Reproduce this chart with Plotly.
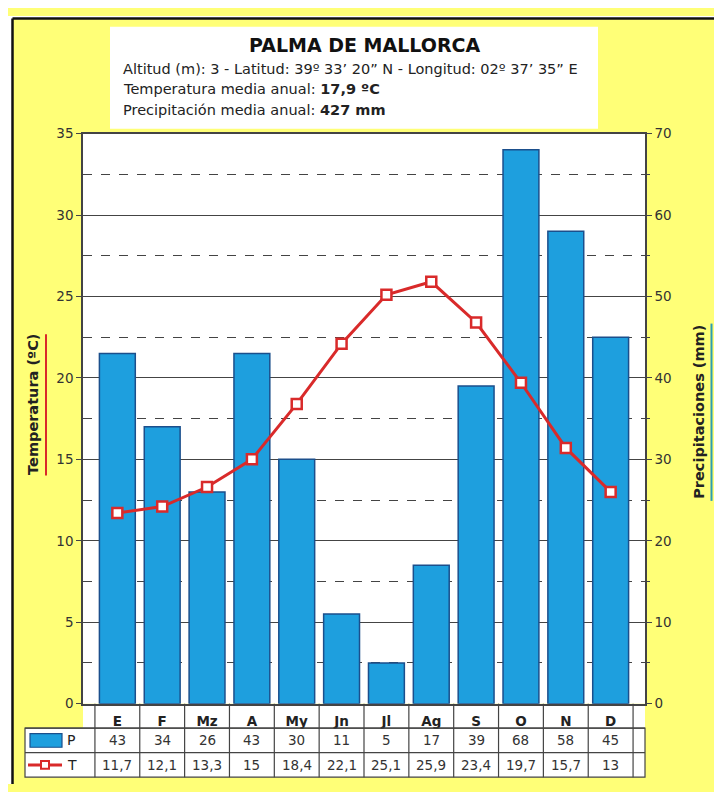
import plotly.graph_objects as go

months = ["E", "F", "Mz", "A", "My", "Jn", "Jl", "Ag", "S", "O", "N", "D"]
precip = [43, 34, 26, 43, 30, 11, 5, 17, 39, 68, 58, 45]
temp = [11.7, 12.1, 13.3, 15, 18.4, 22.1, 25.1, 25.9, 23.4, 19.7, 15.7, 13]
temp_labels = ["11,7", "12,1", "13,3", "15", "18,4", "22,1", "25,1", "25,9", "23,4", "19,7", "15,7", "13"]

title = "PALMA DE MALLORCA"
subtitle = "Altitud (m): 3 - Latitud: 39º 33’ 20” N - Longitud: 02º 37’ 35” E"
t_media = "17,9 ºC"
p_media = "427 mm"

OFF = 8  # page body margin
W, H = 722 - OFF, 792 - OFF
FONT = "DejaVu Sans"
YELLOW = "#FFFF77"
BLUE = "#1E9FDE"
BLUE_EDGE = "#1B4F8C"
RED = "#D92A2A"
GRID = "#444444"

def px(x):
    return (x - OFF) / W

def py(y):
    return 1 - (y - OFF) / H

PL, PR, PT, PB = 83, 645, 128, 710
R1, R2, TB = 735, 760, 785  # table row boundaries

fig = go.Figure()
fig.add_trace(go.Bar(x=months, y=precip, yaxis="y", name="P",
                     marker=dict(color=BLUE, line=dict(color=BLUE_EDGE, width=1.5)),
                     width=0.8))
fig.add_trace(go.Scatter(x=months, y=temp, yaxis="y2", name="T", mode="lines+markers",
                         line=dict(color=RED, width=3),
                         marker=dict(symbol="square", size=10, color="white",
                                     line=dict(color=RED, width=2.5))))

shapes = []
annotations = []

# white margins outside the yellow panel and its dark border
shapes.append(dict(type="rect", xref="paper", yref="paper", x0=0, x1=px(12.5),
                   y0=0, y1=1, fillcolor="white", line=dict(width=0), layer="below"))
shapes.append(dict(type="rect", xref="paper", yref="paper", x0=0, x1=1,
                   y0=py(10.5), y1=1, fillcolor="white", line=dict(width=0), layer="below"))
shapes.append(dict(type="line", xref="paper", yref="paper", x0=px(12.5), x1=px(12.5),
                   y0=0, y1=py(10.5), line=dict(color="#111111", width=2.5)))
shapes.append(dict(type="line", xref="paper", yref="paper", x0=px(12.5), x1=1,
                   y0=py(10.5), y1=py(10.5), line=dict(color="#111111", width=2.5)))
# title box
shapes.append(dict(type="rect", xref="paper", yref="paper", x0=px(110), x1=px(598),
                   y0=py(123), y1=py(19), fillcolor="white", line=dict(width=0), layer="below"))
# table background
shapes.append(dict(type="rect", xref="paper", yref="paper", x0=px(PL), x1=px(PR),
                   y0=py(R1), y1=py(PB), fillcolor="white", line=dict(width=0), layer="below"))
shapes.append(dict(type="rect", xref="paper", yref="paper", x0=px(25), x1=px(PR),
                   y0=py(TB), y1=py(R1), fillcolor="white", line=dict(color=GRID, width=1.2),
                   layer="below"))
for yy in [R1, R2]:
    shapes.append(dict(type="line", xref="paper", yref="paper", x0=px(25), x1=px(PR),
                       y0=py(yy), y1=py(yy), line=dict(color=GRID, width=1.2)))
for i in range(len(months) + 1):
    shapes.append(dict(type="line", xref="x", yref="paper", x0=i - 0.5, x1=i - 0.5,
                       y0=py(TB), y1=py(PB), line=dict(color=GRID, width=1.2)))

yP = (R1 + R2) / 2
yT = (R2 + TB) / 2
# legend cells
shapes.append(dict(type="rect", xref="paper", yref="paper", x0=px(30), x1=px(62),
                   y0=py(yP + 7), y1=py(yP - 7), fillcolor=BLUE, line=dict(color=BLUE_EDGE, width=1.2)))
shapes.append(dict(type="line", xref="paper", yref="paper", x0=px(28), x1=px(62),
                   y0=py(yT), y1=py(yT), line=dict(color=RED, width=3)))
shapes.append(dict(type="rect", xref="paper", yref="paper", x0=px(41), x1=px(49),
                   y0=py(yT + 4), y1=py(yT - 4), fillcolor="white", line=dict(color=RED, width=2)))
annotations.append(dict(text="P", xref="paper", yref="paper", x=px(65), y=py(yP),
                        xanchor="left", yanchor="middle", showarrow=False,
                        font=dict(size=14, color="#222", family=FONT)))
annotations.append(dict(text="T", xref="paper", yref="paper", x=px(65), y=py(yT),
                        xanchor="left", yanchor="middle", showarrow=False,
                        font=dict(size=14, color="#222", family=FONT)))

for m, p, tl in zip(months, precip, temp_labels):
    annotations.append(dict(text=str(p), xref="x", yref="paper", x=m, y=py(yP),
                            yanchor="middle", showarrow=False,
                            font=dict(size=13.5, color="#333", family=FONT)))
    annotations.append(dict(text=tl, xref="x", yref="paper", x=m, y=py(yT),
                            yanchor="middle", showarrow=False,
                            font=dict(size=13.5, color="#333", family=FONT)))

annotations.append(dict(text="<b>" + title + "</b>", xref="paper", yref="paper", x=px(364), y=py(38),
                        xanchor="center", yanchor="middle", showarrow=False,
                        font=dict(size=19, color="#111", family=FONT)))
annotations.append(dict(text=subtitle, xref="paper", yref="paper", x=px(121), y=py(62),
                        xanchor="left", yanchor="middle", showarrow=False,
                        font=dict(size=14.5, color="#222", family=FONT)))
annotations.append(dict(text="Temperatura media anual: <b>" + t_media + "</b>", xref="paper", yref="paper",
                        x=px(121), y=py(83), xanchor="left", yanchor="middle", showarrow=False,
                        font=dict(size=14.5, color="#222", family=FONT)))
annotations.append(dict(text="Precipitación media anual: <b>" + p_media + "</b>", xref="paper", yref="paper",
                        x=px(121), y=py(104), xanchor="left", yanchor="middle", showarrow=False,
                        font=dict(size=14.5, color="#222", family=FONT)))

annotations.append(dict(text="<b>Temperatura (ºC)</b>", xref="paper", yref="paper", x=px(33), y=py(405),
                        textangle=-90, xanchor="center", yanchor="middle", showarrow=False,
                        font=dict(size=14.5, color="#222", family=FONT)))
shapes.append(dict(type="line", xref="paper", yref="paper", x0=px(46), x1=px(46),
                   y0=py(477), y1=py(333), line=dict(color=RED, width=2)))
annotations.append(dict(text="<b>Precipitaciones (mm)</b>", xref="paper", yref="paper", x=px(699), y=py(412),
                        textangle=-90, xanchor="center", yanchor="middle", showarrow=False,
                        font=dict(size=14.5, color="#222", family=FONT)))
shapes.append(dict(type="line", xref="paper", yref="paper", x0=px(711.5), x1=px(711.5),
                   y0=py(503), y1=py(322), line=dict(color="#2A9DB5", width=2)))

fig.update_layout(
    width=W, height=H,
    margin=dict(l=0, r=0, t=0, b=0),
    paper_bgcolor=YELLOW,
    plot_bgcolor="white",
    showlegend=False,
    bargap=0.2,
    font=dict(family=FONT, size=13, color="#333"),
    shapes=shapes,
    annotations=annotations,
    xaxis=dict(domain=[px(PL), px(PR)], type="category",
               tickmode="array", tickvals=months, ticktext=["<b>" + m + "</b>" for m in months],
               tickfont=dict(size=13.5, color="#222", family=FONT),
               showline=True, linecolor=GRID, linewidth=1.5, mirror=True,
               ticks="", showgrid=False, ticklabelstandoff=4),
    yaxis=dict(domain=[py(PB), py(PT)], side="right", range=[0, 70],
               tickvals=[0, 10, 20, 30, 40, 50, 60, 70],
               showgrid=True, gridcolor=GRID, gridwidth=1, zeroline=False,
               minor=dict(tickvals=[5, 15, 25, 35, 45, 55, 65], showgrid=True,
                          gridcolor=GRID, griddash="dash", gridwidth=1,
                          ticks="outside", ticklen=3, tickcolor=GRID),
               ticks="outside", ticklen=5, tickcolor=GRID,
               showline=True, linecolor=GRID, linewidth=1.5,
               tickfont=dict(size=13.5, color="#333", family=FONT)),
    yaxis2=dict(overlaying="y", side="left", range=[0, 35],
                tickvals=[0, 5, 10, 15, 20, 25, 30, 35],
                showgrid=False, zeroline=False,
                ticks="outside", ticklen=5, tickcolor=GRID,
                showline=True, linecolor=GRID, linewidth=1.5,
                tickfont=dict(size=13.5, color="#333", family=FONT)),
)

fig.write_html("out.html")
